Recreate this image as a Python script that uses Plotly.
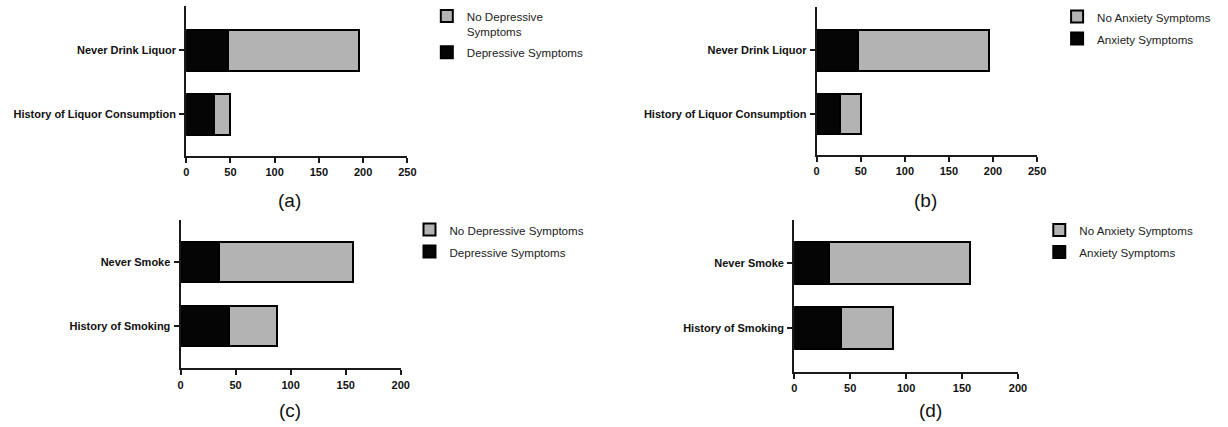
import plotly.graph_objects as go

# ---------------- data ----------------
liquor_cats = ["Never Drink Liquor", "History of Liquor Consumption"]
smoke_cats = ["Never Smoke", "History of Smoking"]

dep_liquor_yes = [47, 32]
dep_liquor_no = [148, 18]
anx_liquor_yes = [47, 26]
anx_liquor_no = [148, 24]

dep_smoke_yes = [35, 44]
dep_smoke_no = [122, 44]
anx_smoke_yes = [31, 42]
anx_smoke_no = [126, 46]

liquor_ticks = [0, 50, 100, 150, 200, 250]
smoke_ticks = [0, 50, 100, 150, 200]

panel_labels = ["(a)", "(b)", "(c)", "(d)"]

# ---------------- style ----------------
W, H = 1228, 427
GRAY = "#b3b3b3"
BLACK = "#050505"
AXC = "#1a1a1a"
FONT = "Liberation Sans, Arial, sans-serif"

def px_x(p):
    return p / W

def px_y(p):
    return 1 - p / H

fig = go.Figure()

panels = [
    dict(cats=liquor_cats, yes=dep_liquor_yes, no=dep_liquor_no,
         yes_name="Depressive Symptoms", no_name="No Depressive<br>Symptoms",
         xmax=250, ticks=liquor_ticks,
         xdom=[185, 408.3], ydom=[155.7, 6],
         yrange=[-0.65, 1.69], leg="legend", legxy=(428, 2)),
    dict(cats=liquor_cats, yes=anx_liquor_yes, no=anx_liquor_no,
         yes_name="Anxiety Symptoms", no_name="No Anxiety Symptoms",
         xmax=250, ticks=liquor_ticks,
         xdom=[821.7, 1044.3], ydom=[155, 6.7],
         yrange=[-0.65, 1.69], leg="legend2", legxy=(1064.5, 2.5)),
    dict(cats=smoke_cats, yes=dep_smoke_yes, no=dep_smoke_no,
         yes_name="Depressive Symptoms", no_name="No Depressive Symptoms",
         xmax=200, ticks=smoke_ticks,
         xdom=[179.3, 401.7], ydom=[368.3, 220],
         yrange=[-0.661, 1.656], leg="legend3", legxy=(410.5, 215.5)),
    dict(cats=smoke_cats, yes=anx_smoke_yes, no=anx_smoke_no,
         yes_name="Anxiety Symptoms", no_name="No Anxiety Symptoms",
         xmax=200, ticks=smoke_ticks,
         xdom=[799, 1025], ydom=[371.7, 220],
         yrange=[-0.665, 1.655], leg="legend4", legxy=(1046.5, 216)),
]

layout_updates = {}
for i, p in enumerate(panels):
    n = "" if i == 0 else str(i + 1)
    xa, ya = "x" + n, "y" + n
    fig.add_trace(go.Bar(
        y=p["cats"], x=p["yes"], orientation="h", name=p["yes_name"],
        marker=dict(color=BLACK, line=dict(color="#000", width=2)),
        xaxis=xa, yaxis=ya, legend=p["leg"], legendrank=2,
        legendgroup=f"yes{i}",
    ))
    fig.add_trace(go.Bar(
        y=p["cats"], x=p["no"], orientation="h", name=p["no_name"],
        marker=dict(color=GRAY, line=dict(color="#000", width=2)),
        xaxis=xa, yaxis=ya, legend=p["leg"], legendrank=1,
        legendgroup=f"no{i}",
    ))
    layout_updates["xaxis" + n] = dict(
        domain=[px_x(p["xdom"][0]), px_x(p["xdom"][1])], anchor=ya,
        range=[0, p["xmax"]],
        tickmode="array", tickvals=p["ticks"],
        showline=True, linecolor=AXC, linewidth=2,
        ticks="outside", ticklen=5, tickwidth=2, tickcolor=AXC,
        showgrid=False, zeroline=False,
        tickfont=dict(family=FONT, size=11, color="#111", weight="bold"),
        fixedrange=True,
    )
    layout_updates["yaxis" + n] = dict(
        domain=[px_y(p["ydom"][0]), px_y(p["ydom"][1])], anchor=xa,
        type="category",
        categoryorder="array", categoryarray=p["cats"][::-1],
        range=p["yrange"],
        showline=True, linecolor=AXC, linewidth=2,
        ticks="outside", ticklen=5, tickwidth=2, tickcolor=AXC,
        showgrid=False, zeroline=False, ticklabelstandoff=1,
        tickfont=dict(family=FONT, size=11, color="#111", weight="bold"),
        fixedrange=True,
    )
    layout_updates[p["leg"]] = dict(
        x=px_x(p["legxy"][0]), y=px_y(p["legxy"][1]),
        xanchor="left", yanchor="top",
        traceorder="grouped", valign="top", tracegroupgap=3,
        font=dict(family=FONT, size=11.6, color="#222"),
        bgcolor="rgba(0,0,0,0)", itemclick=False, itemdoubleclick=False,
    )

fig.update_layout(**layout_updates)

label_pos = [(289, 200), (932, 200), (290, 410), (937, 410)]
for lab, (lx, ly) in zip(panel_labels, label_pos):
    fig.add_annotation(
        text=lab, xref="paper", yref="paper", x=px_x(lx), y=px_y(ly),
        xanchor="center", yanchor="middle", showarrow=False,
        font=dict(family=FONT, size=19, color="#111"),
    )

fig.update_layout(
    width=W, height=H, margin=dict(l=0, r=0, t=0, b=0),
    paper_bgcolor="white", plot_bgcolor="white",
    barmode="stack", bargap=0.36, showlegend=True,
    font=dict(family=FONT),
)

fig.write_html(
    "out.html",
    config={"displayModeBar": False},
    post_script=(
        "document.documentElement.style.margin='0';"
        "document.body.style.margin='0';"
        "document.body.style.overflow='hidden';"
    ),
)
